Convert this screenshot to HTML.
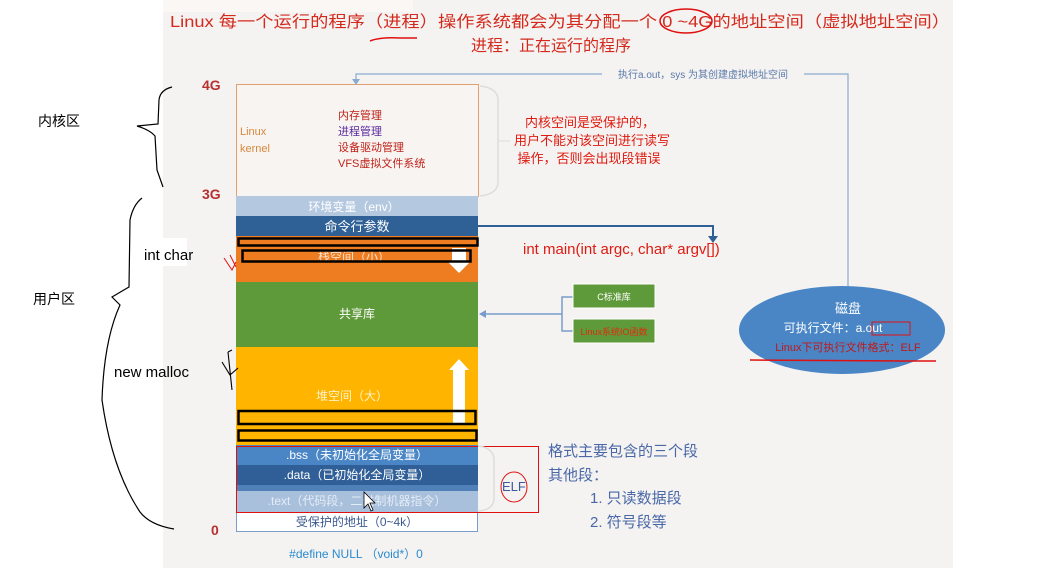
<!DOCTYPE html>
<html><head><meta charset="utf-8"><style>
html,body{margin:0;padding:0;background:#fff;}
svg{display:block;}
text{font-family:"Liberation Sans","Noto Sans CJK SC",sans-serif;}
</style></head><body>
<svg width="1042" height="568" viewBox="0 0 1042 568" xmlns="http://www.w3.org/2000/svg">
<rect x="163" y="0" width="790" height="568" fill="#f4f3f1"/>
<rect x="163" y="0" width="250" height="12" fill="#fbf7f4"/>
<text x="560" y="27" font-size="16" fill="#d42a1e" text-anchor="middle" textLength="780" lengthAdjust="spacingAndGlyphs">Linux 每一个运行的程序（进程）操作系统都会为其分配一个 0 ~4G的地址空间（虚拟地址空间）</text>
<text x="551" y="51" font-size="16" fill="#d42a1e" text-anchor="middle">进程：正在运行的程序</text>
<path d="M370 41 Q380 37 400 38 L417 38" stroke="#e01010" stroke-width="1.5" fill="none"/>
<ellipse cx="686" cy="21" rx="26" ry="12" fill="none" stroke="#e01010" stroke-width="1.5"/>
<rect x="236.5" y="84.5" width="242" height="112" fill="#f7f4f1" stroke="#e0a070"/>
<text x="240" y="135" font-size="11" fill="#d6883c">Linux</text>
<text x="240" y="152" font-size="11" fill="#d6883c">kernel</text>
<text x="338" y="119" font-size="11" fill="#c0221a">内存管理</text>
<text x="338" y="135" font-size="11" fill="#5a2aa0">进程管理</text>
<text x="338" y="151" font-size="11" fill="#c0221a">设备驱动管理</text>
<text x="338" y="167" font-size="11" fill="#c0221a">VFS虚拟文件系统</text>
<path d="M480 86 Q498 88 498 100 L498 182 Q498 194 480 196" stroke="#ddd" stroke-width="1.5" fill="none"/>
<line x1="498" y1="141" x2="510" y2="141" stroke="#ddd"/>
<text x="590" y="127" font-size="13" fill="#e01a10" text-anchor="middle">内核空间是受保护的，</text>
<text x="592" y="145" font-size="13" fill="#e01a10" text-anchor="middle">用户不能对该空间进行读写</text>
<text x="589" y="163" font-size="13" fill="#e01a10" text-anchor="middle">操作，否则会出现段错误</text>
<rect x="236" y="196" width="242" height="20" fill="#b4c8e0"/>
<text x="354" y="211" font-size="12" fill="#fff" text-anchor="middle">环境变量（env）</text>
<rect x="236" y="216" width="242" height="20" fill="#2f6096"/>
<text x="357" y="231" font-size="13" fill="#fff" text-anchor="middle">命令行参数</text>
<rect x="236" y="236" width="242" height="46" fill="#ee7d22"/>
<text x="354" y="261" font-size="12" fill="#fbe0c8" text-anchor="middle">栈空间（小）</text>
<path d="M452 248 L466 248 L466 262 L470 262 L459 273 L448 262 L452 262Z" fill="#fff"/>
<rect x="238.5" y="238.5" width="239" height="7" fill="none" stroke="#000" stroke-width="2.5"/>
<rect x="242.5" y="250.5" width="228" height="11" fill="none" stroke="#000" stroke-width="2.5"/>
<rect x="236" y="282" width="242" height="65" fill="#5f9a3a"/>
<text x="357" y="318" font-size="12" fill="#fff" text-anchor="middle">共享库</text>
<rect x="236" y="347" width="242" height="98" fill="#ffb400"/>
<text x="352" y="400" font-size="12" fill="#fff2c8" text-anchor="middle">堆空间（大）</text>
<path d="M453 370 L449 370 L459 359 L469 370 L465 370 L465 425 L453 425Z" fill="#fff"/>
<rect x="238.5" y="411" width="237" height="13" fill="none" stroke="#000" stroke-width="2.5"/>
<rect x="238.5" y="430.5" width="238" height="10" fill="none" stroke="#000" stroke-width="2.5"/>
<rect x="236" y="445" width="242" height="20" fill="#4a86c6"/>
<text x="357" y="459" font-size="12" fill="#fff" text-anchor="middle">.bss（未初始化全局变量）</text>
<rect x="236" y="465" width="242" height="20" fill="#2f5f96"/>
<text x="357" y="479" font-size="12" fill="#fff" text-anchor="middle">.data（已初始化全局变量）</text>
<rect x="236" y="485" width="242" height="6" fill="#5080b8"/>
<rect x="236" y="491" width="242" height="21" fill="#a9c0dc"/>
<text x="357" y="505" font-size="12" fill="#e4ecf6" text-anchor="middle">.text（代码段，二进制机器指令）</text>
<rect x="236.5" y="512.5" width="241" height="19" fill="#fff" stroke="#7a9ccc"/>
<text x="357" y="526" font-size="12" fill="#3a5a90" text-anchor="middle">受保护的地址（0~4k）</text>
<text x="356" y="558" font-size="12" fill="#2a8ad0" text-anchor="middle">#define NULL （void*）0</text>
<path d="M364 492 L364 508 L368 504 L371 511 L373 510 L370 503 L375 503Z" fill="#fff" stroke="#000" stroke-width="0.8"/>
<rect x="236.5" y="446.5" width="302" height="66" fill="none" stroke="#e01010"/>
<path d="M478 446 Q494 448 494 460 L494 498 Q494 510 478 511" stroke="#ddd" stroke-width="1.5" fill="none"/>
<text x="502" y="491" font-size="13" fill="#3a5aa0">ELF</text>
<ellipse cx="514" cy="487" rx="13" ry="15" fill="none" stroke="#e01010"/>
<text x="202" y="90" font-size="14" font-weight="bold" fill="#b83030">4G</text>
<text x="202" y="199" font-size="14" font-weight="bold" fill="#b83030">3G</text>
<text x="211" y="535" font-size="14" font-weight="bold" fill="#b83030">0</text>
<polyline points="478,226 713,226 713,238" fill="none" stroke="#2f6096" stroke-width="2"/>
<path d="M708 236 L718 236 L713 243Z" fill="#2f6096"/>
<text x="523" y="254" font-size="15" fill="#e01a10">int main(int argc, char* argv[])</text>
<line x1="480" y1="314" x2="562" y2="314" stroke="#7a9ccc" stroke-width="1.5"/>
<path d="M479 314 L486 310 L486 318Z" fill="#7a9ccc"/>
<polyline points="573,297 562,297 562,331 573,331" fill="none" stroke="#7a9ccc" stroke-width="1.5"/>
<rect x="573" y="284" width="82" height="24" fill="#5f9a3a" stroke="#fff"/>
<text x="614" y="300" font-size="9" fill="#fff" text-anchor="middle">C标准库</text>
<rect x="573" y="319" width="82" height="24" fill="#5f9a3a" stroke="#fff"/>
<text x="614" y="335" font-size="9" fill="#e02a10" text-anchor="middle">Linux系统IO函数</text>
<polyline points="848,288 848,74 356,74 356,80" fill="none" stroke="#8aaad0" stroke-width="1.2"/>
<path d="M352 79 L360 79 L356 85Z" fill="#8aaad0"/>
<rect x="602" y="67" width="202" height="14" fill="#f4f3f1"/>
<text x="703" y="78" font-size="10" fill="#5a7aaa" text-anchor="middle">执行a.out，sys 为其创建虚拟地址空间</text>
<ellipse cx="842" cy="330" rx="103" ry="44" fill="#4a86c6"/>
<text x="848" y="313" font-size="13" fill="#fff" text-anchor="middle">磁盘</text>
<text x="833" y="332" font-size="12" fill="#fff" text-anchor="middle">可执行文件：a.out</text>
<rect x="872" y="322" width="38" height="13" fill="none" stroke="#e01010"/>
<text x="848" y="351" font-size="11" fill="#c01818" text-anchor="middle">Linux下可执行文件格式：ELF</text>
<path d="M750 360 L900 361 L936 361" stroke="#e01010" stroke-width="1.5" fill="none"/>
<text x="548" y="456" font-size="15" fill="#4a68a8">格式主要包含的三个段</text>
<text x="548" y="480" font-size="15" fill="#4a68a8">其他段：</text>
<text x="590" y="503" font-size="15" fill="#4a68a8">1. 只读数据段</text>
<text x="590" y="527" font-size="15" fill="#4a68a8">2. 符号段等</text>
<text x="38" y="126" font-size="14" fill="#000">内核区</text>
<text x="33" y="304" font-size="14" fill="#000">用户区</text>
<rect x="142" y="238" width="45" height="28" fill="#fff"/>
<text x="144" y="260" font-size="15" fill="#000">int char</text>
<text x="114" y="377" font-size="15" fill="#000">new malloc</text>
<path d="M172 87 Q160 90 159 100 L158 124 L137 126 Q150 130 155 136 L157 170 L163 187" stroke="#000" fill="none" stroke-width="1.2"/>
<path d="M142 198 Q133 205 130 220 L129 287 L112 297 L120 305 Q104 340 102 400 Q112 470 140 512 Q150 525 174 529" stroke="#000" fill="none" stroke-width="1.2"/>
<path d="M232 390 L228 352 M222 362 L230 375 L238 368 M228 352 L232 350" stroke="#000" fill="none" stroke-width="1.1"/>
<path d="M236 267 L230 255 M224 258 L232 270 L236 262" stroke="#e01010" fill="none" stroke-width="1"/>
</svg>
</body></html>
